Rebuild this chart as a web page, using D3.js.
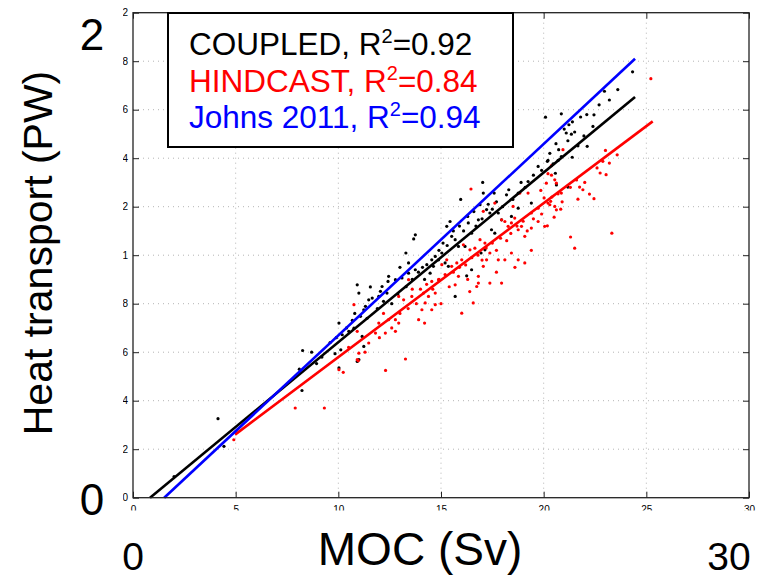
<!DOCTYPE html>
<html>
<head>
<meta charset="utf-8">
<script src="https://cdn.jsdelivr.net/npm/d3@7"></script>
<style>
    html, body {margin: 0; padding: 0; background: #fff;}
    svg {display: block; font-family: "Liberation Sans", Arial, sans-serif;}
</style>
</head>
<body>
<svg id="chart" width="760" height="579"></svg>
<script>
const xTicks = [0, 5, 10, 15, 20, 25, 30]
const yTicks = [0, 0.2, 0.4, 0.6, 0.8, 1, 1.2, 1.4, 1.6, 1.8, 2]
const yTickLabels = ["0", "0.2", "0.4", "0.6", "0.8", "1", "1.2", "1.4", "1.6", "1.8", "2"]

const legendLabels = ["COUPLED", "HINDCAST", "Johns 2011"]
const legendR2 = ["0.92", "0.84", "0.94"]
const seriesColors = ["#000000", "#ff0000", "#0000ff"]

// MOC (Sv), heat transport (PW)
const coupledPoints = [
    [17.03, 1.30], [15.96, 1.23], [17.06, 1.256], [17.59, 1.256], [16.9, 1.208], [17.22, 1.188], [17.38, 1.174],
    [17.79, 1.174], [18.19, 1.249], [18.76, 1.256], [19.24, 1.304], [19.73, 1.366], [20.18, 1.387], [17.46, 1.105],
    [16.82, 1.146], [16.33, 1.133], [16.49, 1.091], [15.44, 1.139], [15.28, 1.119], [15.52, 1.078], [15.69, 1.064],
    [15.85, 1.036], [16.17, 1.036], [15.04, 1.009], [14.72, 0.995], [14.55, 0.981], [14.88, 0.981], [15.2, 0.968],
    [15.36, 0.954], [14.63, 0.954], [14.47, 0.926], [14.31, 0.961], [13.75, 1.084], [13.67, 1.067], [13.29, 1.009],
    [13.42, 0.968], [13.75, 0.94], [13.42, 0.926], [13.1, 0.906], [12.78, 0.899], [12.45, 0.913], [12.42, 0.892],
    [12.13, 0.871], [12.05, 0.851], [12.37, 0.844], [11.97, 0.83], [11.65, 0.823], [11.48, 0.816], [11.32, 0.789],
    [11.24, 0.775], [11.08, 0.748], [10.92, 0.878], [11.0, 0.844], [11.56, 0.869], [10.68, 0.731], [10.76, 0.699],
    [10.51, 0.686], [10.19, 0.672], [10.03, 0.72], [11.16, 0.665], [11.24, 0.624], [15.69, 0.83], [16.25, 0.915],
    [16.95, 1.009], [17.14, 1.022], [17.62, 1.091], [17.95, 1.146], [18.43, 1.16], [18.76, 1.194], [19.4, 1.215],
    [16.49, 0.94], [24.33, 1.756], [23.61, 1.683], [22.96, 1.676], [20.09, 1.569], [20.86, 1.583], [22.45, 1.579],
    [21.23, 1.538], [21.1, 1.504], [21.35, 1.499], [21.51, 1.508], [21.18, 1.472], [21.96, 1.492], [22.4, 1.531],
    [20.73, 1.435], [21.67, 1.451], [22.12, 1.449], [20.21, 1.391], [20.46, 1.377], [20.7, 1.391], [20.86, 1.407],
    [21.39, 1.404], [20.57, 1.338], [20.62, 1.29], [21.18, 1.281], [4.14, 0.326], [4.43, 0.212], [8.26, 0.607],
    [8.23, 0.442], [8.1, 0.53], [8.94, 0.553], [9.84, 0.594], [10.03, 0.535], [10.92, 0.562], [11.0, 0.569],
    [10.12, 0.61], [2.0, 0.087],
    [12.6, 0.80], [12.9, 0.84], [13.3, 0.87], [13.6, 0.90], [13.9, 0.93], [14.1, 0.95], [14.2, 0.90], [14.9, 1.02],
    [15.1, 1.05], [15.3, 1.04], [15.6, 1.10], [15.9, 1.12], [16.1, 1.10], [16.3, 1.16], [16.6, 1.18], [16.7, 1.12],
    [17.0, 1.15], [17.3, 1.21], [17.5, 1.19], [17.7, 1.22], [18.0, 1.20], [18.3, 1.27], [18.5, 1.23], [18.9, 1.30],
    [19.1, 1.28], [19.5, 1.33], [19.9, 1.35], [20.3, 1.42], [20.6, 1.46], [21.0, 1.52], [21.4, 1.55], [21.8, 1.57],
    [22.1, 1.58], [22.7, 1.62], [23.2, 1.64], [9.6, 0.64], [9.9, 0.66], [10.4, 0.70], [10.8, 0.76], [11.9, 0.78],
    [12.2, 0.81], [13.0, 0.95], [8.7, 0.60], [9.2, 0.58], [11.4, 0.74]
]

const hindcastPoints = [
    [16.46, 1.273], [17.06, 1.181], [17.62, 1.215], [17.95, 1.146], [18.11, 1.139], [18.27, 1.119], [18.43, 1.133],
    [18.59, 1.153], [18.76, 1.105], [18.92, 1.119], [19.08, 1.078], [19.4, 1.112], [19.73, 1.139], [20.05, 1.119],
    [20.13, 1.297], [20.02, 1.236], [19.4, 1.174], [18.51, 1.201], [18.84, 1.256], [19.24, 1.256], [19.73, 1.194],
    [16.09, 1.043], [16.41, 1.022], [16.65, 1.029], [16.9, 1.064], [17.14, 1.05], [17.38, 1.009], [17.79, 0.981],
    [18.11, 0.981], [18.43, 1.009], [18.76, 0.981], [19.08, 0.968], [16.82, 0.913], [16.74, 0.871], [16.82, 0.885],
    [17.06, 0.954], [17.38, 0.885], [17.95, 0.885], [17.22, 0.981], [16.01, 0.981], [15.77, 0.968], [15.85, 0.913],
    [15.52, 0.954], [15.28, 0.981], [15.04, 0.961], [15.69, 0.878], [14.88, 0.899], [14.55, 0.892], [14.72, 0.844],
    [14.39, 0.83], [14.23, 0.803], [14.15, 0.844], [14.72, 0.796], [14.55, 0.775], [14.07, 0.775], [13.91, 0.734],
    [13.58, 0.83], [13.42, 0.899], [13.18, 0.816], [12.94, 0.83], [12.94, 0.72], [12.78, 0.734], [12.78, 0.686],
    [12.45, 0.734], [12.29, 0.679], [11.97, 0.72], [11.81, 0.679], [11.48, 0.638], [10.76, 0.796], [10.92, 0.686],
    [16.01, 0.761], [16.57, 0.803], [25.22, 1.728], [20.94, 1.435], [23.01, 1.432], [22.88, 1.387], [23.58, 1.414],
    [22.75, 1.339], [23.04, 1.332], [20.38, 1.369], [20.21, 1.336], [20.38, 1.33], [20.54, 1.311], [20.62, 1.297],
    [19.86, 1.267], [20.7, 1.253], [20.86, 1.256], [21.75, 1.281], [21.91, 1.27], [22.23, 1.252], [22.45, 1.233],
    [21.67, 1.231], [20.21, 1.215], [20.3, 1.208], [20.34, 1.222], [20.54, 1.201], [20.62, 1.187], [20.83, 1.19],
    [20.51, 1.157], [20.18, 1.121], [21.31, 1.075], [21.51, 1.029], [23.32, 1.091], [4.91, 0.239], [7.9, 0.37],
    [9.32, 0.37], [10.03, 0.528], [10.24, 0.517], [10.92, 0.569], [11.0, 0.596], [10.97, 0.565], [12.3, 0.525],
    [13.27, 0.572],
    [13.0, 0.76], [13.4, 0.78], [13.8, 0.80], [14.0, 0.86], [14.3, 0.88], [14.6, 0.86], [14.9, 0.90], [15.2, 0.92],
    [15.4, 0.87], [15.6, 0.93], [15.9, 0.95], [16.2, 0.96], [16.3, 0.90], [16.5, 0.99], [16.8, 1.00], [17.0, 0.98],
    [17.2, 1.03], [17.5, 1.05], [17.7, 1.02], [17.9, 1.07], [18.2, 1.06], [18.4, 1.09], [18.7, 1.12], [19.0, 1.14],
    [19.2, 1.10], [19.5, 1.15], [19.9, 1.17], [20.4, 1.24], [20.9, 1.22], [21.3, 1.28], [21.6, 1.31], [22.0, 1.30],
    [22.6, 1.36], [23.2, 1.38], [12.0, 0.66], [12.6, 0.70], [11.3, 0.60], [10.5, 0.62], [14.2, 0.72], [15.0, 0.80],
    [16.4, 0.85], [17.7, 0.93], [18.6, 0.95], [19.4, 1.02], [13.6, 0.86], [12.2, 0.76]
]

// regression lines, start and end
const coupledFit = [[0.83, 0], [24.45, 1.652]]
const hindcastFit = [[4.97, 0.26], [25.31, 1.552]]
const johnsFit = [[1.52, 0], [24.45, 1.81]]

const plot = {left: 133, right: 749, top: 12.7, bottom: 497.7}

const svg = d3.select("#chart")

const x = d3.scaleLinear().domain([0, 30]).range([plot.left, plot.right])
const y = d3.scaleLinear().domain([0, 2]).range([plot.bottom, plot.top])

// Dotted grid
svg.append("g")
    .selectAll("line")
    .data(xTicks.slice(1, -1))
    .enter()
    .append("line")
    .attr("x1", d => x(d)).attr("x2", d => x(d))
    .attr("y1", plot.top).attr("y2", plot.bottom)
    .style("stroke", "#b4b4b4").style("stroke-width", 1).style("stroke-dasharray", "1,4")
svg.append("g")
    .selectAll("line")
    .data(yTicks.slice(1, -1))
    .enter()
    .append("line")
    .attr("y1", d => y(d)).attr("y2", d => y(d))
    .attr("x1", plot.left).attr("x2", plot.right)
    .style("stroke", "#b4b4b4").style("stroke-width", 1).style("stroke-dasharray", "1,4")

// Scatter points
const appendPoints = (data, color) => {
    svg.append("g")
        .selectAll("circle")
        .data(data)
        .enter()
        .append("circle")
        .attr("cx", d => x(d[0]))
        .attr("cy", d => y(d[1]))
        .attr("r", 1.6)
        .style("fill", color)
}
appendPoints(coupledPoints, seriesColors[0])
appendPoints(hindcastPoints, seriesColors[1])

// Fit lines
const line = d3.line().x(d => x(d[0])).y(d => y(d[1]))
const appendLine = (data, color) => {
    svg.append("path")
        .datum(data)
        .attr("d", line)
        .style("fill", "none")
        .style("stroke", color)
        .style("stroke-width", 2.6)
}
appendLine(coupledFit, seriesColors[0])
appendLine(hindcastFit, seriesColors[1])
appendLine(johnsFit, seriesColors[2])

// Clips for the half hidden tick labels (in each axis group's own coordinates)
const defs = svg.append("defs")
defs.append("clipPath").attr("id", "clipY")
    .append("rect").attr("x", 123 - plot.left).attr("y", -50).attr("width", 60).attr("height", 650)
defs.append("clipPath").attr("id", "clipX")
    .append("rect").attr("x", -50).attr("y", -600).attr("width", 900).attr("height", 600 + 510.5 - plot.bottom)

// Axes, ticks inside like the box on all four sides
const styleAxis = (g) => {
    g.select(".domain").remove()
    g.selectAll("line").style("stroke", "#222").style("stroke-width", 1)
    g.selectAll("text").style("font-size", "10px").style("fill", "#000")
        .style("font-family", "\"Liberation Sans\", Arial, sans-serif")
}

svg.append("g")
    .attr("transform", "translate(0," + plot.bottom + ")")
    .attr("clip-path", "url(#clipX)")
    .call(d3.axisBottom(x).tickValues(xTicks).tickSizeInner(-6).tickSizeOuter(0).tickPadding(8))
    .call(styleAxis)
svg.append("g")
    .attr("transform", "translate(0," + plot.top + ")")
    .call(d3.axisTop(x).tickValues(xTicks).tickSizeInner(-6).tickSizeOuter(0).tickFormat(""))
    .call(styleAxis)
svg.append("g")
    .attr("transform", "translate(" + plot.left + ",0)")
    .attr("clip-path", "url(#clipY)")
    .call(d3.axisLeft(y).tickValues(yTicks).tickSizeInner(-6).tickSizeOuter(0).tickPadding(5)
        .tickFormat((d, i) => yTickLabels[i]))
    .call(styleAxis)
svg.append("g")
    .attr("transform", "translate(" + plot.right + ",0)")
    .call(d3.axisRight(y).tickValues(yTicks).tickSizeInner(-6).tickSizeOuter(0).tickFormat(""))
    .call(styleAxis)

svg.append("rect")
    .attr("x", plot.left).attr("y", plot.top)
    .attr("width", plot.right - plot.left).attr("height", plot.bottom - plot.top)
    .style("fill", "none").style("stroke", "#222").style("stroke-width", 1.3)

// Legend box
const legend = svg.append("g")
legend.append("rect")
    .attr("x", 168).attr("y", 13).attr("width", 345).attr("height", 134)
    .style("fill", "#fff").style("stroke", "#000").style("stroke-width", 2)

legendLabels.forEach((label, i) => {
    const t = legend.append("text")
        .attr("x", 189)
        .attr("y", 55 + i * 36.5)
        .style("font-size", "31.5px")
        .style("fill", seriesColors[i])
    t.append("tspan").text(label + ", R")
    t.append("tspan").attr("dy", -12).style("font-size", "20px").text("2")
    t.append("tspan").attr("dy", 12).text("=" + legendR2[i])
})

// Big overlay labels
const bigText = (txt, px, py, size, anchor) => {
    svg.append("text")
        .attr("x", px).attr("y", py)
        .style("font-size", size + "px")
        .style("text-anchor", anchor)
        .text(txt)
}
bigText(yTickLabels[yTickLabels.length - 1], 92, 50, 44, "middle")
bigText(yTickLabels[0], 92, 515, 44, "middle")
bigText(String(xTicks[0]), 133, 570, 39, "middle")
bigText(String(xTicks[xTicks.length - 1]), 729, 570, 39, "middle")
bigText("MOC (Sv)", 420, 565, 46, "middle")

svg.append("text")
    .attr("transform", "translate(52,253) rotate(-90)")
    .style("font-size", "41px")
    .style("text-anchor", "middle")
    .text("Heat transport (PW)")
</script>
</body>
</html>
